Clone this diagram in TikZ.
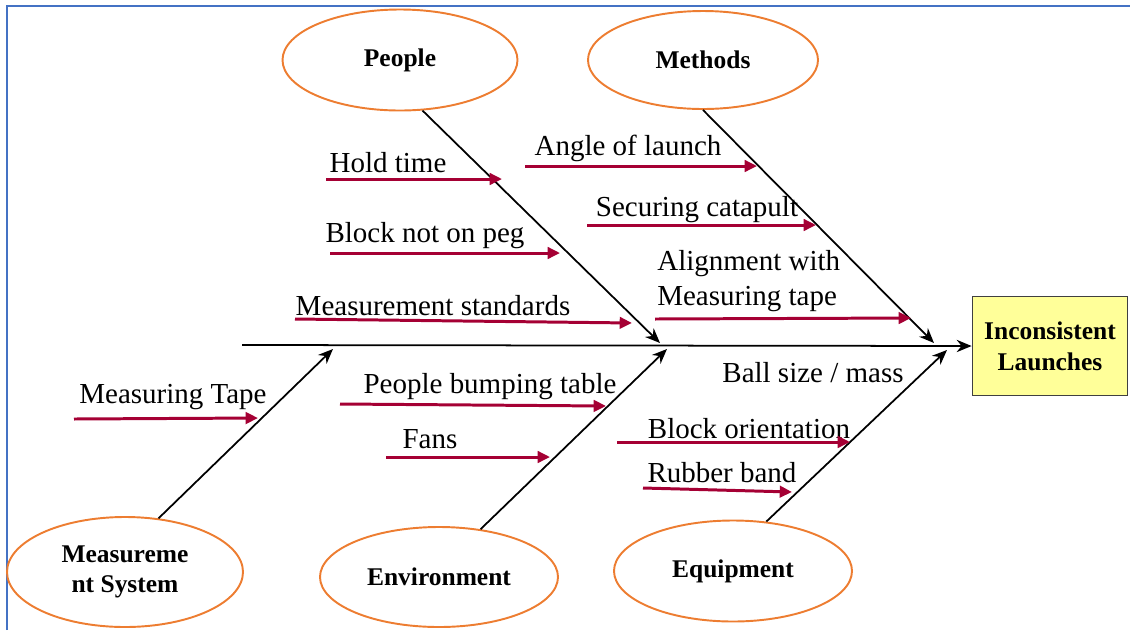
\documentclass[tikz,border=0pt]{standalone}
\usepackage{fontspec}
\setmainfont{Liberation Serif}
\usetikzlibrary{shapes,arrows.meta}
\definecolor{causered}{RGB}{165,0,52}
\definecolor{catorange}{RGB}{237,125,49}
\definecolor{frameblue}{RGB}{68,114,196}
\definecolor{effectyellow}{RGB}{255,255,153}

\begin{document}
\begin{tikzpicture}[x=0.02cm,y=-0.02cm]
    \newcommand{\pxu}[0]{ 0.02cm }
    \tikzstyle{bone}  = [line width=1pt,-{Stealth[length=8.5pt,width=7pt]},draw=black]
    \tikzstyle{cause} = [line width=1.7pt,-{Triangle[length=7pt,width=6.5pt]},draw=causered]
    \tikzstyle{category}=[
      ellipse,
      draw=catorange,
      line width=1.1pt,
      inner sep=0pt,
      minimum width=235*\pxu,
      minimum height=101*\pxu,
      align=center,
      font=\fontsize{14.5}{17.5}\selectfont\bfseries,
    ]
    \tikzstyle{causetext}=[inner sep=0pt,anchor=base,font=\fontsize{16.5}{19.5}\selectfont]

    \useasboundingbox (0,0) rectangle (1130,630);
    \draw[frameblue,line width=1.4pt] (7,630) -- (7,6) -- (1130,6);

    % effect and spine
    \node[draw=black!75,line width=1pt,fill=effectyellow,minimum width=155*\pxu,minimum height=99*\pxu,
          align=center,font=\fontsize{14.5}{17.5}\selectfont\bfseries] (effect) at (1050,346)
      {Inconsistent\\Launches};
    \coordinate (spine_start) at (242,345);
    \draw[bone] (spine_start) -- (effect.west);

    % categories
    \node[category] (people) at (400,60) {People};
    \node[category,minimum width=230*\pxu,minimum height=98*\pxu] (methods) at (703,60) {Methods};
    \node[category,minimum width=236*\pxu,minimum height=110*\pxu] (meas_system) at (125,572)
      {Measureme\\nt System};
    \node[category,minimum width=238*\pxu,minimum height=100*\pxu] (environment) at (439,577) {Environment};
    \node[category,minimum width=238*\pxu] (equipment) at (733,571) {Equipment};

    % bones
    \coordinate (people_j)      at (660,343);
    \coordinate (methods_j)     at (934,343);
    \coordinate (meas_system_j) at (333,349);
    \coordinate (environment_j) at (667,349);
    \coordinate (equipment_j)   at (947,350);
    \draw[bone] (people.-66)      -- (people_j);
    \draw[bone] (methods.-90)     -- (methods_j);
    \draw[bone] (meas_system.58)  -- (meas_system_j);
    \draw[bone] (environment.49)  -- (environment_j);
    \draw[bone] (equipment.56)    -- (equipment_j);

    % people causes
    \node[causetext] (hold_time) at (388,172) {Hold time};
    \node[causetext] (block_peg) at (425,242) {Block not on peg};
    \node[causetext] (meas_std)  at (433,315) {Measurement standards};
    \coordinate (hold_time_a) at (326,179);
    \coordinate (hold_time_b) at (502,179);
    \coordinate (block_peg_a) at (330,253);
    \coordinate (block_peg_b) at (560,253);
    \coordinate (meas_std_a)  at (295,319);
    \coordinate (meas_std_b)  at (632,323);
    \draw[cause] (hold_time_a) -- (hold_time_b);
    \draw[cause] (block_peg_a) -- (block_peg_b);
    \draw[cause] (meas_std_a)  -- (meas_std_b);

    % methods causes
    \node[causetext] (angle_launch) at (628,155) {Angle of launch};
    \node[causetext] (securing)     at (697,216) {Securing catapult};
    \node[causetext,anchor=west,align=left] (alignment) at (657,281)
      {Alignment with\\Measuring tape};
    \coordinate (angle_launch_a) at (525,166);
    \coordinate (angle_launch_b) at (757,166);
    \coordinate (securing_a)     at (587,225);
    \coordinate (securing_b)     at (816,225);
    \coordinate (alignment_a)    at (655,319);
    \coordinate (alignment_b)    at (911,318);
    \draw[cause] (angle_launch_a) -- (angle_launch_b);
    \draw[cause] (securing_a)     -- (securing_b);
    \draw[cause] (alignment_a)    -- (alignment_b);

    % measurement system causes
    \node[causetext] (meas_tape) at (173,403) {Measuring Tape};
    \coordinate (meas_tape_a) at (74,419);
    \coordinate (meas_tape_b) at (258,418);
    \draw[cause] (meas_tape_a) -- (meas_tape_b);

    % environment causes
    \node[causetext] (bumping) at (490,393) {People bumping table};
    \node[causetext] (fans)    at (430,448) {Fans};
    \coordinate (bumping_a) at (340,404);
    \coordinate (bumping_b) at (606,406);
    \coordinate (fans_a)    at (386,457);
    \coordinate (fans_b)    at (550,457);
    \draw[cause] (bumping_a) -- (bumping_b);
    \draw[cause] (fans_a)    -- (fans_b);

    % equipment causes
    \node[causetext] (ball_size)    at (813,382) {Ball size / mass};
    \node[causetext] (block_orient) at (749,438) {Block orientation};
    \node[causetext] (rubber_band)  at (722,482) {Rubber band};
    \coordinate (block_orient_a) at (617,442);
    \coordinate (block_orient_b) at (850,442);
    \coordinate (rubber_band_a)  at (643,488);
    \coordinate (rubber_band_b)  at (792,492);
    \draw[cause] (block_orient_a) -- (block_orient_b);
    \draw[cause] (rubber_band_a)  -- (rubber_band_b);
  \end{tikzpicture}
\end{document}
